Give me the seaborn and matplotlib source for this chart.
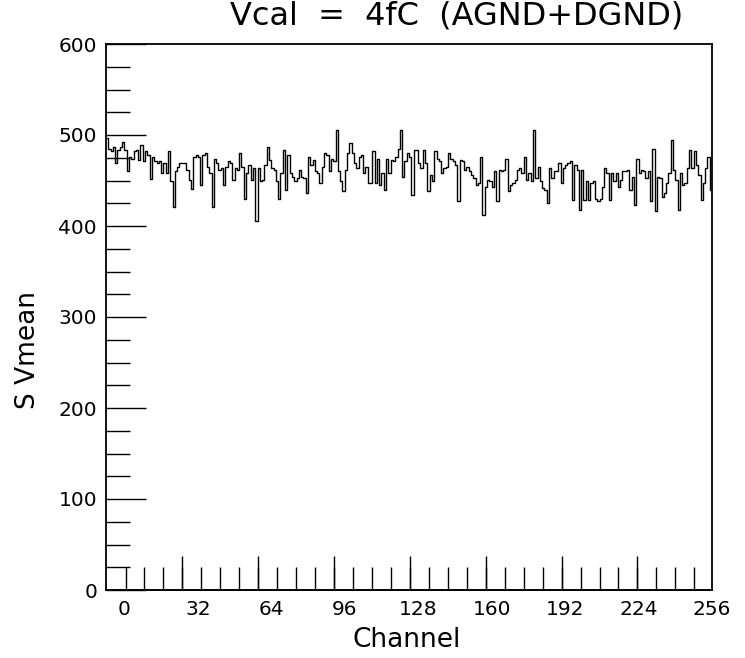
import numpy as np
import pandas as pd
import matplotlib
matplotlib.use("Agg")
import matplotlib.pyplot as plt
import seaborn as sns

# ---- data (bin contents, channel -8 .. 255, left to right) ----
seg1 = [497, 485, 482, 487, 469, 484, 487, 492, 484, 460, 476, 474, 482, 484, 473, 489, 471, 482, 478, 452, 476]
seg2 = [471, 469, 471, 458, 469, 458, 482, 449, 421, 460, 465, 469, 469, 469, 462, 451, 441, 476, 478, 476, 445, 478, 480]
seg3 = [465, 458, 421, 474, 469, 462, 464, 445, 465, 471, 469, 451, 464, 462, 480, 465, 430, 458, 467, 451, 464, 405]
seg4 = [464, 449, 451, 467, 487, 473, 464, 462, 449, 430, 458, 484, 440, 478, 458, 454, 449, 453, 462, 454, 453, 436, 476]
seg5 = [467, 473, 460, 458, 447, 465, 480, 478, 460, 474, 471, 506, 460, 449, 438, 462, 480, 491, 480, 469, 464, 476, 478]
seg6 = [458, 465, 447, 447, 482, 447, 474, 445, 458, 440, 474, 458, 473, 471, 476, 485, 505, 454, 471, 480, 476, 434]
seg7 = [484, 484, 469, 464, 484, 469, 438, 456, 449, 482, 474, 471, 458, 464, 465, 480, 474, 471, 467, 427, 473, 471, 462, 465]
seg8 = [460, 456, 453, 445, 447, 476, 412, 443, 451, 449, 443, 460, 427, 462, 460, 462, 474, 438, 445, 447, 451, 462, 464]
seg9 = [458, 476, 451, 458, 449, 505, 453, 465, 449, 442, 440, 425, 464, 453, 460, 460, 469, 447, 464, 467, 469, 471]
seg10 = [429, 467, 462, 418, 462, 429, 449, 429, 447, 449, 430, 427, 430, 443, 464, 458, 429, 458, 449, 458, 443, 451, 460]
seg11 = [460, 462, 440, 454, 423, 474, 458, 462, 460, 453, 460, 427, 485, 416, 454, 453, 432, 436, 447, 458, 494]
seg12 = [462, 451, 418, 458, 445, 447, 464, 484, 464, 482, 467, 456, 429, 447, 464, 476, 440]

svmean = seg1 + seg2 + seg3 + seg4 + seg5 + seg6 + seg7 + seg8 + seg9 + seg10 + seg11 + seg12

x_range = (-8, 256)
y_range = (0, 600)
x_labels = [0, 32, 64, 96, 128, 160, 192, 224, 256]
title = "Vcal  =  4fC  (AGND+DGND)"
xlabel = "Channel"
ylabel = "S Vmean"

# ---- figure ----
sns.set_style("white")
plt.rcParams['font.family'] = ['DejaVu Sans']
plt.rcParams['text.color'] = 'black'
plt.rcParams['xtick.color'] = 'black'
plt.rcParams['ytick.color'] = 'black'

fig = plt.figure(figsize=(7.45, 6.58), dpi=100)
ax = fig.add_axes([106/745, 1-590/658, (712-106)/745, (590-44)/658])

n = len(svmean)
bw = (x_range[1] - x_range[0]) / n
df = pd.DataFrame({
    "channel": x_range[0] + bw * (np.arange(n) + 0.5),
    "svmean": svmean,
})
sns.histplot(data=df, x="channel", weights="svmean", binwidth=bw, binrange=x_range,
             element="step", fill=False, color="black", linewidth=1.0, ax=ax)

ax.set_xlim(*x_range)
ax.set_ylim(*y_range)
ax.set_xlabel("")
ax.set_ylabel("")

for s in ax.spines.values():
    s.set_visible(True)
    s.set_color("black")
    s.set_linewidth(1.3)

pt = 72 / 100.0  # px -> pt
# y ticks
ax.yaxis.set_major_locator(matplotlib.ticker.MultipleLocator(100))
ax.yaxis.set_minor_locator(matplotlib.ticker.MultipleLocator(25))
ax.tick_params(axis="y", which="major", direction="in", length=40*pt, width=1.0,
               labelsize=14.5, pad=9*pt, left=True, right=False, colors="black")
ax.tick_params(axis="y", which="minor", direction="in", length=24*pt, width=1.0,
               left=True, right=False)

# x labels (no marks) + tick marks at PAW positions
ax.set_xticks(x_labels)
ax.set_xticklabels([str(v) for v in x_labels])
ax.tick_params(axis="x", which="major", length=0, labelsize=14.5, pad=10*pt,
               bottom=True, top=False, colors="black")
minor_pos = [0.5 + 8.26 * k for k in range(31)]
ax.set_xticks(minor_pos, minor=True)
ax.tick_params(axis="x", which="minor", direction="in", length=23*pt, width=1.0,
               bottom=True, top=False)
tall_pos = [minor_pos[k] for k in range(3, 31, 4)]
sec = ax.secondary_xaxis("bottom")
sec.set_xticks(tall_pos)
sec.tick_params(direction="in", length=34*pt, width=1.0, labelbottom=False)
sec.spines["bottom"].set_linewidth(1.3)

fig.text(457/745, 1-16/658, title, ha="center", va="center", fontsize=23, color="black")
fig.text(407/745, 1-640/658, xlabel, ha="center", va="center", fontsize=19, color="black")
fig.text(28/745, 1-350/658, ylabel, ha="center", va="center", rotation=90, fontsize=19,
         color="black")

fig.savefig("out.png", dpi=100, facecolor="white")
